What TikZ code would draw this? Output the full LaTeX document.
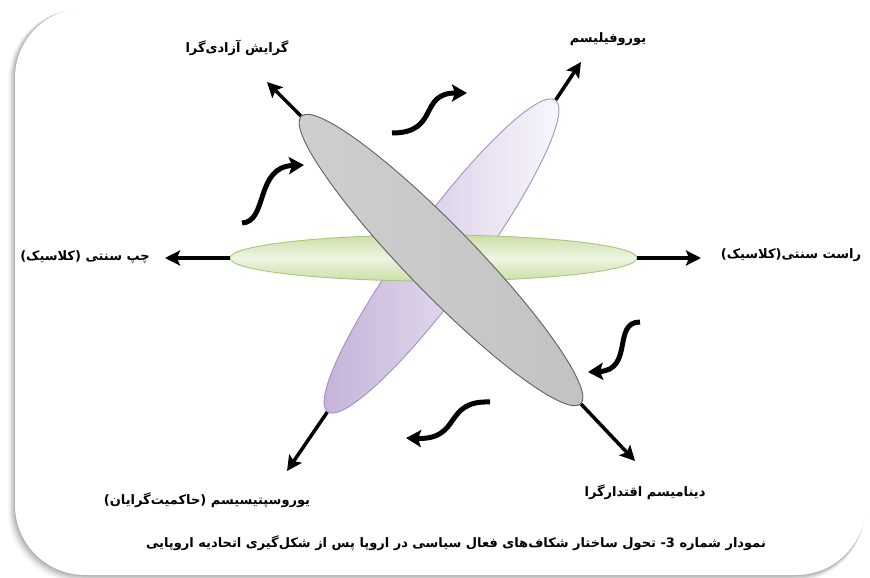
\documentclass[tikz,border=0pt]{standalone}
\usepackage{fontspec}
\newfontfamily\arabicfont[Script=Arabic]{DejaVu Sans}
\TeXXeTstate=1
\usetikzlibrary{shapes.geometric,arrows.meta}
\definecolor{grayfillA}{HTML}{CFCFCF}
\definecolor{grayfillB}{HTML}{C2C2C2}
\definecolor{grayline}{HTML}{606060}
\definecolor{purpline}{HTML}{A092C8}
\definecolor{purpdark}{HTML}{C2B0D6}
\definecolor{purplight}{HTML}{FBFAFF}
\definecolor{greenline}{HTML}{A9C77F}
\definecolor{greenedge}{HTML}{CADFA6}
\definecolor{greenmid}{HTML}{EDF5E2}
\tikzset{
  lbl/.style={font=\arabicfont\bfseries\fontsize{13}{15}\selectfont, inner sep=0pt},
  captext/.style={font=\arabicfont\bfseries\fontsize{13}{15}\selectfont, inner sep=0pt},
  blade/.style={ellipse, draw, inner sep=0pt, line width=0.9pt},
  straight/.style={line width=3.5pt, -{Stealth[length=15pt,width=15pt,inset=3pt]}},
  wavy/.style={line width=5pt, -{Stealth[length=15pt,width=17pt,inset=3pt]}},
}
\begin{document}
\begin{tikzpicture}[x=1pt,y=-1pt]
\useasboundingbox (0,0) rectangle (870,578);
% frame with soft shadow
\foreach \i/\o in {7/0.03,5.5/0.05,4/0.07,2.5/0.09,1/0.1}{
  \fill[black,opacity=\o,rounded corners=70] (15-\i,8+0.3*\i) rectangle (866-0.3*\i,575+\i);
}
\fill[white,rounded corners=70] (15,8) rectangle (866,575);

% blades
\node[blade, draw=purpline, left color=purpdark, right color=purplight,
      minimum width=386pt, minimum height=70pt, rotate=53.8] (purple) at (441.5,256) {};
\node[blade, draw=greenline, top color=greenedge, bottom color=greenedge, middle color=greenmid,
      minimum width=407pt, minimum height=46pt] (green) at (433.5,258) {};
\node[blade, draw=grayline, left color=grayfillA, right color=grayfillB,
      minimum width=401pt, minimum height=68pt, rotate=-45.8] (gray) at (441,260) {};

% free ends of straight arrows
\coordinate (gTop) at (267,82);
\coordinate (pTop) at (581,62);
\coordinate (grL) at (165,258);
\coordinate (grR) at (701,258);
\coordinate (pBot) at (287,471);
\coordinate (gBot) at (635,461);
\draw[straight] (gray.west) -- (gTop);
\draw[straight] (purple.east) -- (pTop);
\draw[straight] (green.west) -- (grL);
\draw[straight] (green.east) -- (grR);
\draw[straight] (purple.west) -- (pBot);
\draw[straight] (gray.east) -- (gBot);

% wavy arrows
\coordinate (w1s) at (392,133); \coordinate (w1e) at (467,93);
\coordinate (w2s) at (242,223); \coordinate (w2e) at (304,165);
\coordinate (w3s) at (640,322); \coordinate (w3e) at (588,372);
\coordinate (w4s) at (490,402); \coordinate (w4e) at (406,438);
\draw[wavy] (w1s) .. controls (440,133) and (418,93) .. (w1e);
\draw[wavy] (w2s) .. controls (268,222) and (255,167) .. (w2e);
\draw[wavy] (w3s) .. controls (612,322) and (634,370) .. (w3e);
\draw[wavy] (w4s) .. controls (443,400) and (462,440) .. (w4e);

% labels
\node[lbl] (lib) at (237,48) {\beginR گرایش آزادی‌گرا\endR};
\node[lbl] (euf) at (608,39) {\beginR یوروفیلیسم\endR};
\node[lbl] (lft) at (85,257) {\beginR چپ سنتی (کلاسیک)\endR};
\node[lbl] (rgt) at (791,255) {\beginR راست سنتی(کلاسیک)\endR};
\node[lbl] (esc) at (207,500) {\beginR یوروسپتیسیسم (حاکمیت‌گرایان)\endR};
\node[lbl] (dyn) at (645,492) {\beginR دینامیسم اقتدارگرا\endR};
\node[captext] (caption) at (456,543) {\beginR نمودار شماره 3- تحول ساختار شکاف‌های فعال سیاسی در اروپا پس از شکل‌گیری اتحادیه اروپایی\endR};
\end{tikzpicture}
\end{document}
